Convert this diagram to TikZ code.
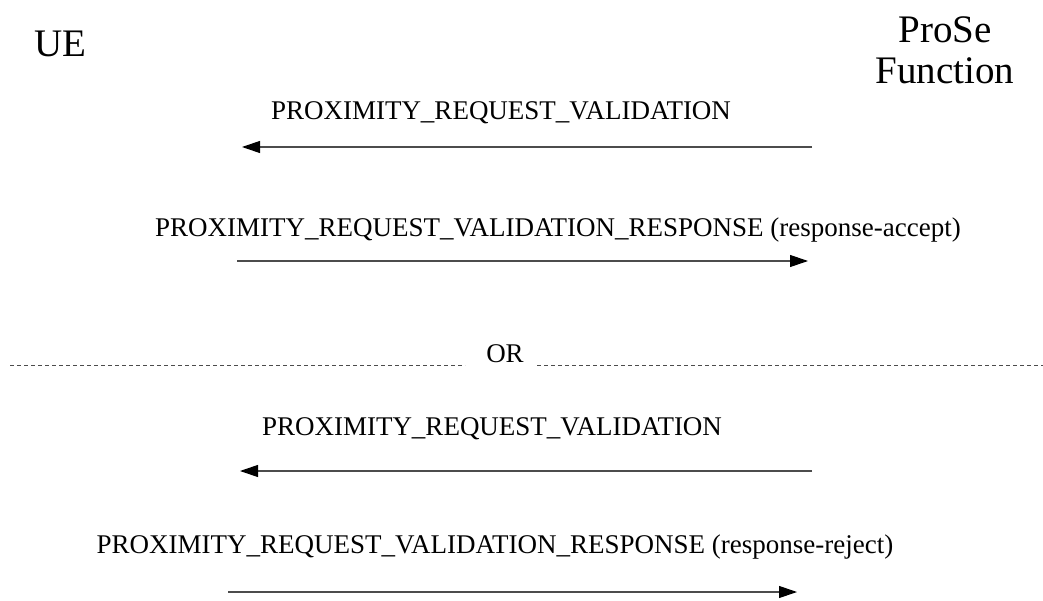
\documentclass[tikz,border=0pt]{standalone}
\usepackage{fontspec}
\setmainfont{Liberation Serif}
\usetikzlibrary{arrows.meta}
\tikzset{
  actor/.style={anchor=base,inner sep=0pt,font=\fontsize{39}{45}\selectfont},
  msg/.style={anchor=base,inner sep=0pt,font=\fontsize{27}{31}\selectfont},
  sig/.style={draw=black!70,line width=1.1pt,-{Triangle[length=18pt,width=12pt,color=black]}},
  sep/.style={draw=black!70,line width=1pt,dash pattern=on 4pt off 3pt}
}
\begin{document}
\begin{tikzpicture}[x=1pt,y=-1pt]
                \useasboundingbox (0,0) rectangle (1043,601) ;
                % entities
                \node[actor] (ue) at (60,57) {UE} ;
                \node[actor] (prose) at (945,43) {ProSe} ;
                \node[actor] (func) at (945,84) {Function} ;
                % first exchange
                \coordinate (pf1) at (812,147) ;
                \coordinate (ue1) at (242,147) ;
                \node[msg] (m1) at (501,120) {PROXIMITY\_REQUEST\_VALIDATION} ;
                \draw[sig] (pf1) -- (ue1) ;
                \coordinate (ue2) at (237,261) ;
                \coordinate (pf2) at (808,261) ;
                \node[msg] (m2) at (558,237) {PROXIMITY\_REQUEST\_VALIDATION\_RESPONSE (response-accept)} ;
                \draw[sig] (ue2) -- (pf2) ;
                % separator
                \node[msg] (or) at (505,362) {OR} ;
                \coordinate (sl) at (10,365) ;
                \coordinate (sm) at (465,365) ;
                \coordinate (sn) at (537,365) ;
                \coordinate (sr) at (1043,365) ;
                \draw[sep] (sl) -- (sm) ;
                \draw[sep] (sn) -- (sr) ;
                % second exchange
                \coordinate (pf3) at (812,471) ;
                \coordinate (ue3) at (240,471) ;
                \node[msg] (m3) at (492,435) {PROXIMITY\_REQUEST\_VALIDATION} ;
                \draw[sig] (pf3) -- (ue3) ;
                \coordinate (ue4) at (228,592) ;
                \coordinate (pf4) at (797,592) ;
                \node[msg] (m4) at (495,553) {PROXIMITY\_REQUEST\_VALIDATION\_RESPONSE (response-reject)} ;
                \draw[sig] (ue4) -- (pf4) ;
\end{tikzpicture}
\end{document}
